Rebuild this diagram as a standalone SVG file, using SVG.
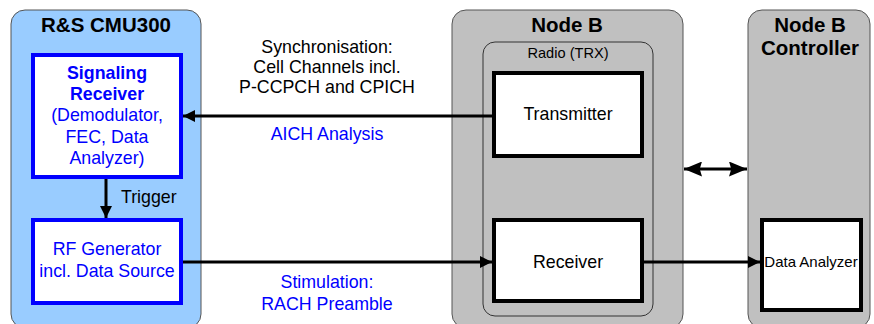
<svg xmlns="http://www.w3.org/2000/svg" width="874" height="324" viewBox="0 0 874 324">
<style>
text{font-family:"Liberation Sans",Arial,sans-serif}
.outer{stroke:#555;stroke-width:1}
.title{font-size:20.5px;font-weight:bold;fill:#000;text-anchor:middle}
.blue{fill:#0000FF;font-size:17.8px;text-anchor:middle}
.black{fill:#000;font-size:17.8px;text-anchor:middle}
.bbox{fill:#fff;stroke:#0000FF;stroke-width:4}
.kbox{fill:#fff;stroke:#000;stroke-width:4}
.conn{stroke:#000;stroke-width:3;fill:none}
</style>
<defs>
<marker id="ah" viewBox="0 0 10 10" refX="10" refY="5" markerWidth="4" markerHeight="4" markerUnits="strokeWidth" orient="auto-start-reverse">
<path d="M0,0 L10,5 L0,10 z" fill="#000"/>
</marker>
<marker id="ahb" viewBox="0 0 12 10" refX="12" refY="5" markerWidth="6" markerHeight="5" markerUnits="strokeWidth" orient="auto-start-reverse">
<path d="M0,0 L12,5 L0,10 L1.5,5 z" fill="#000"/>
</marker>
</defs>
<g id="cmu300">
<rect class="outer" x="11" y="10" width="190" height="318" rx="14" fill="#99CCFF"/>
<text class="title" x="106" y="32">R&amp;S CMU300</text>
</g>
<g id="nodeb">
<rect class="outer" x="452" y="10" width="231" height="318" rx="14" fill="#C0C0C0"/>
<text class="title" x="567" y="32">Node B</text>
</g>
<g id="radio">
<rect x="483" y="42" width="170" height="274" rx="12" fill="#C0C0C0" stroke="#333" stroke-width="1"/>
<text x="568" y="58" font-size="14.6" text-anchor="middle" fill="#000">Radio (TRX)</text>
</g>
<g id="controller">
<rect class="outer" x="748" y="10" width="122" height="318" rx="14" fill="#C0C0C0"/>
<text class="title" x="810" y="32">Node B</text>
<text class="title" x="810" y="55">Controller</text>
</g>
<g id="sigrx">
<rect class="bbox" x="33" y="55" width="148" height="122"/>
<text class="blue" x="107" y="79" font-weight="bold">Signaling</text>
<text class="blue" x="107" y="100" font-weight="bold">Receiver</text>
<text class="blue" x="107" y="121">(Demodulator,</text>
<text class="blue" x="107" y="143">FEC, Data</text>
<text class="blue" x="107" y="164">Analyzer)</text>
</g>
<g id="rfgen">
<rect class="bbox" x="33" y="220" width="148" height="83"/>
<text class="blue" x="107" y="255">RF Generator</text>
<text class="blue" x="107" y="277">incl. Data Source</text>
</g>
<g id="transmitter">
<rect class="kbox" x="494" y="73" width="148" height="83"/>
<text class="black" x="568" y="120">Transmitter</text>
</g>
<g id="receiver">
<rect class="kbox" x="494" y="220" width="148" height="81"/>
<text class="black" x="568" y="268">Receiver</text>
</g>
<g id="dataanalyzer">
<rect class="kbox" x="762" y="220" width="99" height="90"/>
<text x="811" y="267" font-size="15" text-anchor="middle" fill="#000">Data Analyzer</text>
</g>
<g id="connectors">
<line class="conn" x1="492" y1="116" x2="183" y2="116" marker-end="url(#ah)"/>
<line class="conn" x1="106" y1="179" x2="106" y2="218" marker-end="url(#ah)"/>
<line class="conn" x1="183" y1="262" x2="492" y2="262" marker-end="url(#ah)"/>
<line class="conn" x1="644" y1="262" x2="760" y2="262" marker-end="url(#ah)"/>
<line class="conn" x1="684" y1="169" x2="747" y2="169" marker-start="url(#ahb)" marker-end="url(#ahb)"/>
</g>
<g id="labels">
<text class="black" x="327" y="53">Synchronisation:</text>
<text class="black" x="327" y="73">Cell Channels incl.</text>
<text class="black" x="327" y="93">P-CCPCH and CPICH</text>
<text class="blue" x="327" y="140">AICH Analysis</text>
<text x="121" y="203" font-size="17.8" fill="#000">Trigger</text>
<text class="blue" x="327" y="288">Stimulation:</text>
<text class="blue" x="327" y="310">RACH Preamble</text>
</g>
</svg>
